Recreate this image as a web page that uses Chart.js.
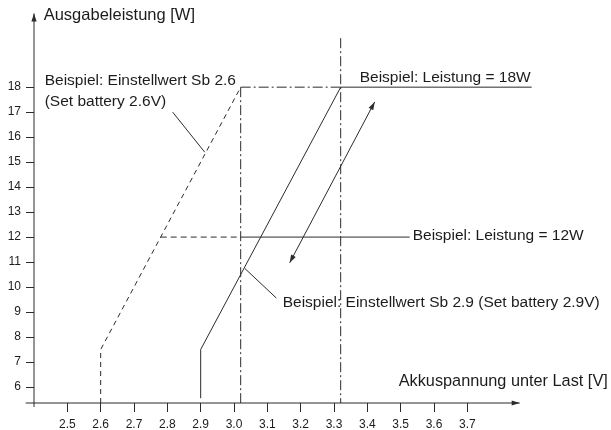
<!DOCTYPE html>
<html>
<head>
<meta charset="utf-8">
<script src="https://cdn.jsdelivr.net/npm/chart.js@4.4.1/dist/chart.umd.min.js"></script>
<style>
  html, body { margin: 0; padding: 0; background: #fff; }
  #wrap { width: 611px; height: 430px; }
</style>
</head>
<body>
<div id="wrap"><canvas id="chart"></canvas></div>
<script>
// axis ticks
const xTicks = [2.5, 2.6, 2.7, 2.8, 2.9, 3.0, 3.1, 3.2, 3.3, 3.4, 3.5, 3.6, 3.7];
const yTicks = [6, 7, 8, 9, 10, 11, 12, 13, 14, 15, 16, 17, 18];

// Sb 2.6 curve (dashed)
const sb26Volt = [2.6, 2.6, 3.02];
const sb26Watt = [5.36, 7.5, 18];

// Sb 2.9 curve (solid)
const sb29Volt = [2.9, 2.9, 3.32];
const sb29Watt = [5.55, 7.5, 18];

// 18W example
const p18DashVolt = [3.02, 3.32];
const p18SolidVolt = [3.32, 3.893];
const p18Watt = [18, 18];

// 12W example
const p12DashVolt = [2.78, 3.02];
const p12SolidVolt = [3.02, 3.527];
const p12Watt = [12, 12];

// vertical dash-dot guides
const guideA = { volt: [3.02, 3.02], watt: [18, 5.36] };
const guideB = { volt: [3.32, 3.32], watt: [19.96, 5.36] };

// double arrow
const arrowVolt = [3.167, 3.422];
const arrowWatt = [10.97, 17.41];

// leader lines
const leader26Volt = [2.816, 2.912];
const leader26Watt = [17.0, 15.4];
const leader29Volt = [3.032, 3.127];
const leader29Watt = [10.75, 9.56];

// axes
const yAxisVolt = [2.4, 2.4];
const yAxisWatt = [5.2, 20.95];
const xAxisVolt = [2.375, 3.857];
const xAxisWatt = [5.36, 5.36];

const labels = [
    { text: "Ausgabeleistung [W]", x: 2.429, y: 20.88, size: 16.5 },
    { text: "Beispiel: Einstellwert Sb 2.6", x: 2.432, y: 18.24 },
    { text: "(Set battery 2.6V)", x: 2.432, y: 17.4 },
    { text: "Beispiel: Leistung = 18W", x: 3.377, y: 18.37 },
    { text: "Beispiel: Leistung = 12W", x: 3.536, y: 12.07 },
    { text: "Beispiel: Einstellwert Sb 2.9 (Set battery 2.9V)", x: 3.146, y: 9.36 },
    { text: "Akkuspannung unter Last [V]", x: 3.494, y: 6.24, size: 16.3 }
];

const INK = "#2b2b2b";
const FONT = "'Liberation Sans', Arial, sans-serif";

function pts(xs, ys) {
    return xs.map((x, i) => ({ x: x, y: ys[i] }));
}

function line(xs, ys, dash, extra) {
    return Object.assign({
        data: pts(xs, ys),
        borderColor: INK,
        borderWidth: 1,
        borderDash: dash || [],
        pointRadius: 0,
        showLine: true,
        fill: false,
        tension: 0,
        clip: false
    }, extra || {});
}

const dashDot = [10, 3, 2, 3];

const datasets = [
    line(yAxisVolt, yAxisWatt, [], { arrowEnd: true }),
    line(xAxisVolt, xAxisWatt, [], { arrowEnd: true }),
    line(sb26Volt, sb26Watt, [5, 4]),
    line(sb29Volt, sb29Watt),
    line(guideA.volt, guideA.watt, dashDot),
    line(guideB.volt, guideB.watt, dashDot),
    line(p18DashVolt, p18Watt, dashDot),
    line(p18SolidVolt, p18Watt),
    line(p12DashVolt, p12Watt, [6, 4]),
    line(p12SolidVolt, p12Watt),
    line(arrowVolt, arrowWatt, [], { arrowEnd: true, arrowStart: true }),
    line(leader26Volt, leader26Watt),
    line(leader29Volt, leader29Watt)
];

function drawHead(ctx, tip, from) {
    const ang = Math.atan2(tip.y - from.y, tip.x - from.x);
    const len = 8, half = 2.6;
    ctx.save();
    ctx.translate(tip.x, tip.y);
    ctx.rotate(ang);
    ctx.beginPath();
    ctx.moveTo(0, 0);
    ctx.lineTo(-len, -half);
    ctx.lineTo(-len, half);
    ctx.closePath();
    ctx.fillStyle = INK;
    ctx.fill();
    ctx.restore();
}

const decorPlugin = {
    id: "decor",
    afterDatasetsDraw(chart) {
        const ctx = chart.ctx;
        chart.data.datasets.forEach((ds, i) => {
            const pts = chart.getDatasetMeta(i).data;
            if (ds.arrowEnd) drawHead(ctx, pts[pts.length - 1], pts[pts.length - 2]);
            if (ds.arrowStart) drawHead(ctx, pts[0], pts[1]);
        });
        const xs = chart.scales.x, ys = chart.scales.y;
        ctx.save();
        ctx.fillStyle = "#1c1c1c";
        ctx.textAlign = "left";
        ctx.textBaseline = "middle";
        labels.forEach(l => {
            ctx.font = (l.size || 15.5) + "px " + FONT;
            ctx.fillText(l.text, xs.getPixelForValue(l.x), ys.getPixelForValue(l.y));
        });
        ctx.restore();
    }
};

new Chart(document.getElementById("chart"), {
    type: "scatter",
    data: { datasets: datasets },
    options: {
        responsive: true,
        maintainAspectRatio: false,
        animation: false,
        layout: { padding: { top: 12, right: 60.3, left: 0, bottom: 0 } },
        plugins: { legend: { display: false }, tooltip: { enabled: false } },
        scales: {
            x: {
                type: "linear",
                min: 2.4,
                max: 3.95,
                afterBuildTicks: s => { s.ticks = xTicks.map(v => ({ value: v })); },
                afterFit: s => { s.height = 27; },
                border: { display: false },
                grid: { drawOnChartArea: false, drawTicks: true, tickLength: 9, color: INK },
                ticks: {
                    padding: 5,
                    color: "#1c1c1c",
                    font: { family: FONT, size: 12 },
                    callback: v => v.toFixed(1)
                }
            },
            y: {
                type: "linear",
                min: 5.36,
                max: 21,
                afterBuildTicks: s => { s.ticks = yTicks.map(v => ({ value: v })); },
                afterFit: s => { s.width = 34; },
                border: { display: false },
                grid: { drawOnChartArea: false, drawTicks: true, tickLength: 8, color: INK },
                ticks: {
                    padding: 5,
                    color: "#1c1c1c",
                    font: { family: FONT, size: 12 }
                }
            }
        }
    },
    plugins: [decorPlugin]
});
</script>
</body>
</html>
